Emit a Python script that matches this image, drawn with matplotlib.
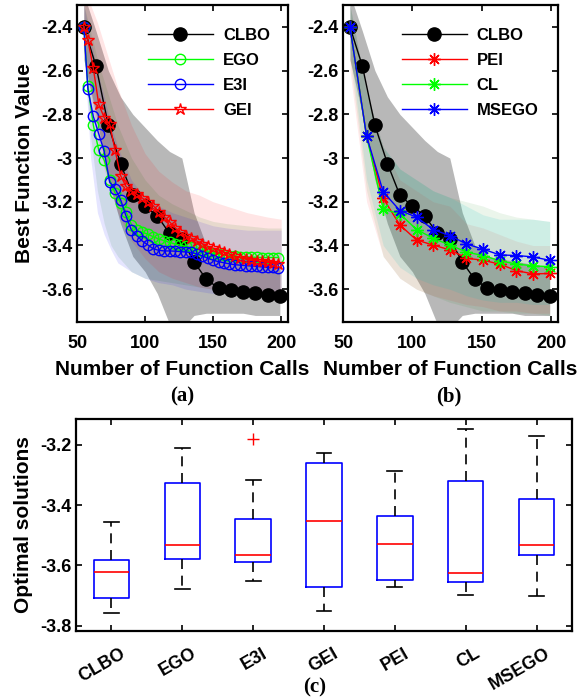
import numpy as np
import matplotlib
matplotlib.use('Agg')
import matplotlib.pyplot as plt
from matplotlib.transforms import ScaledTranslation

plt.rcParams['font.family'] = ['Liberation Sans', 'DejaVu Sans']
plt.rcParams['font.weight'] = 'bold'
plt.rcParams['axes.labelweight'] = 'bold'
plt.rcParams['axes.unicode_minus'] = False

# ---- datos panel (a) y (b): CLBO ----
x_clbo = [55, 64, 73, 82, 91, 100, 109, 118, 127, 136, 145, 154, 163, 172, 181, 190, 199]
clbo = [-2.40, -2.58, -2.85, -3.025, -3.17, -3.22, -3.265, -3.345, -3.37, -3.475,
        -3.555, -3.595, -3.605, -3.612, -3.617, -3.625, -3.632]
clbo_hi = [-2.25, -2.42, -2.60, -2.72, -2.80, -2.86, -2.92, -2.97, -3.00, -3.25,
           -3.40, -3.45, -3.46, -3.47, -3.48, -3.49, -3.50]
clbo_lo = [-2.55, -2.80, -3.10, -3.30, -3.45, -3.52, -3.62, -3.76, -3.78, -3.72,
           -3.71, -3.71, -3.71, -3.71, -3.72, -3.72, -3.72]

# ---- panel (a) ----
x_a = [55, 58, 62, 66, 70, 74, 78, 82, 86, 90, 94, 98, 102, 106, 110, 114, 118, 122, 126,
       130, 134, 138, 142, 146, 150, 154, 158, 162, 166, 170, 174, 178, 182, 186, 190, 194, 198]
ego = [-2.40, -2.67, -2.85, -2.965, -3.01, -3.10, -3.16, -3.205, -3.245, -3.305, -3.33,
       -3.34, -3.348, -3.36, -3.37, -3.378, -3.386, -3.393, -3.399, -3.404, -3.409, -3.414,
       -3.424, -3.43, -3.437, -3.44, -3.443, -3.446, -3.449, -3.451, -3.452, -3.453, -3.454,
       -3.455, -3.455, -3.455, -3.455]
e3i = [-2.40, -2.685, -2.81, -2.89, -2.97, -3.11, -3.14, -3.19, -3.265, -3.33, -3.355,
       -3.38, -3.397, -3.415, -3.422, -3.425, -3.425, -3.426, -3.428, -3.43, -3.432, -3.438,
       -3.448, -3.458, -3.467, -3.474, -3.479, -3.484, -3.488, -3.49, -3.492, -3.494, -3.496,
       -3.498, -3.50, -3.50, -3.503]
gei = [-2.40, -2.46, -2.59, -2.755, -2.815, -2.845, -2.965, -3.08, -3.13, -3.15, -3.166,
       -3.183, -3.20, -3.218, -3.245, -3.268, -3.292, -3.318, -3.34, -3.355, -3.367, -3.38,
       -3.392, -3.403, -3.412, -3.42, -3.43, -3.44, -3.45, -3.456, -3.462, -3.468, -3.47,
       -3.473, -3.477, -3.481, -3.485]

xa_band = [55, 60, 65, 70, 75, 80, 90, 100, 110, 120, 130, 140, 150, 160, 175, 190, 200]
ego_hi = [-2.30, -2.42, -2.55, -2.65, -2.75, -2.85, -3.00, -3.10, -3.17, -3.21, -3.24,
          -3.27, -3.29, -3.30, -3.31, -3.32, -3.32]
ego_lo = [-2.50, -2.90, -3.15, -3.30, -3.40, -3.45, -3.52, -3.55, -3.56, -3.57, -3.58,
          -3.59, -3.60, -3.60, -3.60, -3.61, -3.61]
e3i_hi = [-2.30, -2.45, -2.60, -2.72, -2.85, -2.95, -3.10, -3.18, -3.22, -3.25, -3.27,
          -3.29, -3.31, -3.32, -3.33, -3.33, -3.33]
e3i_lo = [-2.50, -3.00, -3.25, -3.35, -3.42, -3.48, -3.52, -3.55, -3.57, -3.58, -3.60,
          -3.61, -3.62, -3.62, -3.62, -3.63, -3.63]
gei_hi = [-2.28, -2.30, -2.38, -2.48, -2.58, -2.68, -2.85, -2.98, -3.06, -3.11, -3.15,
          -3.17, -3.20, -3.22, -3.25, -3.27, -3.28]
gei_lo = [-2.50, -2.70, -2.90, -3.05, -3.15, -3.25, -3.38, -3.46, -3.52, -3.55, -3.57,
          -3.59, -3.60, -3.60, -3.61, -3.61, -3.61]

# ---- panel (b) ----
x_b = [55, 67, 79, 91, 103, 115, 127, 139, 151, 163, 175, 187, 199]
pei = [-2.40, -2.90, -3.185, -3.306, -3.375, -3.398, -3.42, -3.458, -3.468, -3.485,
       -3.515, -3.53, -3.528]
cl = [-2.40, -2.90, -3.235, -3.255, -3.327, -3.367, -3.398, -3.43, -3.446, -3.47,
      -3.485, -3.493, -3.497]
msego = [-2.40, -2.90, -3.155, -3.24, -3.27, -3.327, -3.355, -3.393, -3.417, -3.443,
         -3.446, -3.452, -3.468]
pei_hi = [-2.30, -2.70, -2.95, -3.10, -3.15, -3.20, -3.22, -3.30, -3.32, -3.35, -3.38, -3.40, -3.40]
pei_lo = [-2.60, -3.20, -3.45, -3.55, -3.60, -3.63, -3.65, -3.67, -3.68, -3.70, -3.70, -3.71, -3.71]
cl_hi = [-2.30, -2.70, -2.95, -3.05, -3.10, -3.15, -3.18, -3.20, -3.22, -3.25, -3.27, -3.28, -3.29]
cl_lo = [-2.55, -3.15, -3.45, -3.55, -3.60, -3.63, -3.66, -3.68, -3.70, -3.70, -3.71, -3.71, -3.72]
msego_hi = [-2.30, -2.70, -2.95, -3.05, -3.10, -3.15, -3.18, -3.22, -3.26, -3.28, -3.28, -3.28, -3.29]
msego_lo = [-2.50, -3.10, -3.40, -3.50, -3.55, -3.58, -3.60, -3.63, -3.65, -3.66, -3.66, -3.67, -3.67]

# ---- panel (c): boxplot ----
metodos = ['CLBO', 'EGO', 'E3I', 'GEI', 'PEI', 'CL', 'MSEGO']
whis_lo = [-3.758, -3.677, -3.652, -3.750, -3.672, -3.698, -3.701]
q1 = [-3.709, -3.579, -3.589, -3.672, -3.648, -3.655, -3.565]
med = [-3.623, -3.533, -3.564, -3.452, -3.530, -3.626, -3.533]
q3 = [-3.582, -3.326, -3.445, -3.261, -3.435, -3.320, -3.380]
whis_hi = [-3.456, -3.211, -3.318, -3.228, -3.287, -3.148, -3.171]
outliers = [[], [], [-3.181], [], [], [], []]

fig = plt.figure(figsize=(5.87, 7.0), dpi=100)
W, H = 587, 700


def ejes(l, t, r, b):
    return fig.add_axes([l / W, 1 - b / H, (r - l) / W, (b - t) / H])


def fmt(v, pos):
    return f'{v:g}'


def estilo(ax):
    ax.tick_params(direction='in', top=True, right=True, length=4, width=1.2,
                   labelsize=13)
    for s in ax.spines.values():
        s.set_linewidth(1.6)
    ax.yaxis.set_major_formatter(plt.FuncFormatter(fmt))


# Panel (a)
ax1 = ejes(77, 5, 288, 322)
ax1.fill_between(x_clbo, clbo_lo, clbo_hi, color='k', alpha=0.28, lw=0)
ax1.fill_between(xa_band, ego_lo, ego_hi, color='g', alpha=0.1, lw=0)
ax1.fill_between(xa_band, e3i_lo, e3i_hi, color='b', alpha=0.1, lw=0)
ax1.fill_between(xa_band, gei_lo, gei_hi, color='r', alpha=0.1, lw=0)
ax1.plot(x_clbo, clbo, '-o', color='k', mfc='k', ms=9.5, lw=1, label='CLBO')
ax1.plot(x_a, ego, '-o', color=(0, 1, 0), mfc='none', ms=7.5, lw=1, label='EGO')
ax1.plot(x_a, e3i, '-o', color=(0, 0, 1), mfc='none', ms=7.5, lw=1, label='E3I')
ax1.plot(x_a, gei, '-*', color=(1, 0, 0), mfc='none', ms=9, lw=1, label='GEI')

# Panel (b)
ax2 = ejes(343, 5, 558, 322)
ax2.fill_between(x_clbo, clbo_lo, clbo_hi, color='k', alpha=0.28, lw=0)
ax2.fill_between(x_b, pei_lo, pei_hi, color='r', alpha=0.08, lw=0)
ax2.fill_between(x_b, cl_lo, cl_hi, color='g', alpha=0.08, lw=0)
ax2.fill_between(x_b, msego_lo, msego_hi, color='c', alpha=0.12, lw=0)
ax2.plot(x_clbo, clbo, '-o', color='k', mfc='k', ms=9.5, lw=1, label='CLBO')
ax2.plot(x_b, pei, '-', marker=(8, 2, 0), color=(1, 0, 0), ms=9, lw=1, mew=1, label='PEI')
ax2.plot(x_b, cl, '-', marker=(8, 2, 0), color=(0, 1, 0), ms=9, lw=1, mew=1, label='CL')
ax2.plot(x_b, msego, '-', marker=(8, 2, 0), color=(0, 0, 1), ms=9, lw=1, mew=1, label='MSEGO')

for ax, lx in [(ax1, 0.336), (ax2, 0.273)]:
    ax.set_xlim(50, 205)
    ax.set_ylim(-3.75, -2.3)
    ax.set_xticks([50, 100, 150, 200])
    ax.set_yticks([-3.6, -3.4, -3.2, -3.0, -2.8, -2.6, -2.4])
    estilo(ax)
    ax.tick_params(axis='x', pad=9)
    ax.set_xlabel('Number of Function Calls', fontsize=15, labelpad=6)
    ax.legend(loc='upper left', bbox_to_anchor=(lx, 0.927), frameon=False, fontsize=12,
              handlelength=3.9, handletextpad=0.6, labelspacing=0.6, borderpad=0,
              borderaxespad=0)
ax1.set_ylabel('Best Function Value', fontsize=15, labelpad=5)

# Panel (c)
ax3 = ejes(76, 419, 572, 631)
stats = []
for i in range(len(metodos)):
    stats.append({'whislo': whis_lo[i], 'q1': q1[i], 'med': med[i], 'q3': q3[i],
                  'whishi': whis_hi[i], 'fliers': outliers[i], 'label': metodos[i]})
ax3.bxp(stats, positions=range(1, 8), widths=0.5, capwidths=0.21, showfliers=True,
        boxprops=dict(color='b', lw=1.2),
        medianprops=dict(color='r', lw=1.2),
        whiskerprops=dict(color='k', lw=1.2, ls=(0, (6, 4))),
        capprops=dict(color='k', lw=1.2),
        flierprops=dict(marker='+', markeredgecolor='r', ms=9, mew=1))
ax3.set_xlim(0.5, 7.5)
ax3.set_ylim(-3.817, -3.115)
ax3.set_yticks([-3.8, -3.6, -3.4, -3.2])
estilo(ax3)
ax3.tick_params(axis='x', pad=10)
ax3.set_xticks(range(1, 8))
ax3.set_xticklabels(metodos, rotation=30, ha='right', va='top', rotation_mode='anchor')
for lab in ax3.get_xticklabels():
    lab.set_transform(lab.get_transform() + ScaledTranslation(6 / 72, 0, fig.dpi_scale_trans))
ax3.set_ylabel('Optimal solutions', fontsize=15, labelpad=5)

# Etiquetas de subfiguras
fig.text(182 / W, 1 - 396 / H, '(a)', ha='center', va='center', fontsize=15,
         family='Liberation Serif', weight='bold')
fig.text(449 / W, 1 - 396 / H, '(b)', ha='center', va='center', fontsize=15,
         family='Liberation Serif', weight='bold')
fig.text(315 / W, 1 - 687 / H, '(c)', ha='center', va='center', fontsize=15,
         family='Liberation Serif', weight='bold')

fig.savefig('out.png', dpi=100)
